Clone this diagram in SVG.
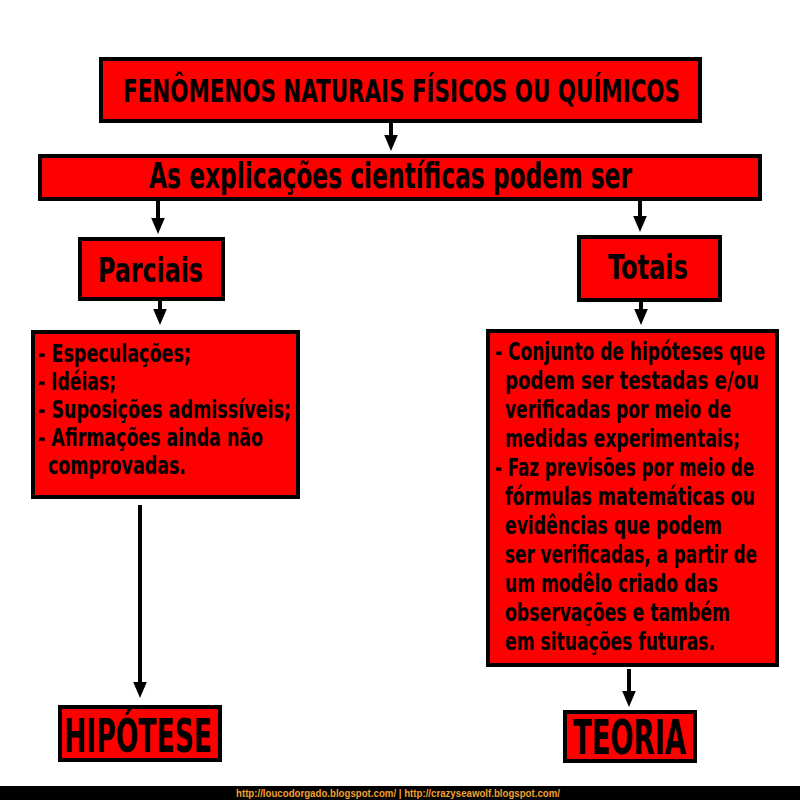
<svg xmlns="http://www.w3.org/2000/svg" width="800" height="800" viewBox="0 0 800 800">
  <style>
    .box { fill: #ff0000; stroke: #000; stroke-width: 4; }
    .t { font-family: "DejaVu Sans Condensed", "DejaVu Sans", sans-serif; font-stretch: condensed; font-weight: bold; fill: #000; }
    .list { font-size: 18px; }
    .con { stroke: #000; stroke-width: 4; fill: none; marker-end: url(#arr); }
    .foot { font-family: "Liberation Sans", Arial, sans-serif; font-size: 11px; font-weight: bold; fill: #f0a030; }
  </style>
  <defs>
    <marker id="arr" markerWidth="4" markerHeight="4" refX="2" refY="2" orient="auto" markerUnits="strokeWidth" viewBox="0 0 4 4">
      <path d="M0,0.3 L4,2 L0,3.7 Z" fill="#000"/>
    </marker>
  </defs>
  <rect width="800" height="800" fill="#fff"/>

  <g id="connectors">
    <line class="con" x1="391" y1="121" x2="391" y2="143"/>
    <line class="con" x1="158" y1="199" x2="158" y2="226"/>
    <line class="con" x1="640" y1="199" x2="640" y2="224"/>
    <line class="con" x1="160" y1="300" x2="160" y2="317"/>
    <line class="con" x1="641" y1="301" x2="641" y2="317"/>
    <line class="con" x1="140" y1="505" x2="140" y2="690"/>
    <line class="con" x1="629" y1="669" x2="629" y2="699"/>
  </g>

  <g id="n-fenomenos">
    <rect class="box" x="101" y="59" width="599" height="62"/>
    <text class="t" transform="translate(123 102) scale(1 1.39)" font-size="23.5" textLength="557" lengthAdjust="spacingAndGlyphs">FENÔMENOS NATURAIS FÍSICOS OU QUÍMICOS</text>
  </g>

  <g id="n-explicacoes">
    <rect class="box" x="40" y="156" width="720" height="43"/>
    <text class="t" transform="translate(149 188) scale(1 1.35)" font-size="26" textLength="483" lengthAdjust="spacingAndGlyphs">As explicações científicas podem ser</text>
  </g>

  <g id="n-parciais">
    <rect class="box" x="80" y="239" width="143" height="60"/>
    <text class="t" transform="translate(98 282) scale(1 1.36)" font-size="25" textLength="105" lengthAdjust="spacingAndGlyphs">Parciais</text>
  </g>

  <g id="n-totais">
    <rect class="box" x="579" y="237" width="141" height="63"/>
    <text class="t" transform="translate(608 279) scale(1 1.32)" font-size="25" textLength="80" lengthAdjust="spacingAndGlyphs">Totais</text>
  </g>

  <g id="n-lista-parciais">
    <rect class="box" x="33" y="332" width="265" height="165"/>
    <text class="t list" transform="translate(38 362) scale(1 1.39)" textLength="153" lengthAdjust="spacingAndGlyphs">- Especulações;</text>
    <text class="t list" transform="translate(38 390) scale(1 1.39)" textLength="78" lengthAdjust="spacingAndGlyphs">- Idéias;</text>
    <text class="t list" transform="translate(38 418) scale(1 1.39)" textLength="253" lengthAdjust="spacingAndGlyphs">- Suposições admissíveis;</text>
    <text class="t list" transform="translate(38 446) scale(1 1.39)" textLength="225" lengthAdjust="spacingAndGlyphs">- Afirmações ainda não</text>
    <text class="t list" transform="translate(48 474) scale(1 1.39)" textLength="138" lengthAdjust="spacingAndGlyphs">comprovadas.</text>
  </g>

  <g id="n-lista-totais">
    <rect class="box" x="488" y="331" width="289" height="334"/>
    <text class="t list" transform="translate(495 360) scale(1 1.39)" textLength="270" lengthAdjust="spacingAndGlyphs">- Conjunto de hipóteses que</text>
    <text class="t list" transform="translate(505 389) scale(1 1.39)" textLength="254" lengthAdjust="spacingAndGlyphs">podem ser testadas e/ou</text>
    <text class="t list" transform="translate(505 418) scale(1 1.39)" textLength="226" lengthAdjust="spacingAndGlyphs">verificadas por meio de</text>
    <text class="t list" transform="translate(505 447) scale(1 1.39)" textLength="235" lengthAdjust="spacingAndGlyphs">medidas experimentais;</text>
    <text class="t list" transform="translate(495 476) scale(1 1.39)" textLength="259" lengthAdjust="spacingAndGlyphs">- Faz previsões por meio de</text>
    <text class="t list" transform="translate(505 505) scale(1 1.39)" textLength="250" lengthAdjust="spacingAndGlyphs">fórmulas matemáticas ou</text>
    <text class="t list" transform="translate(505 534) scale(1 1.39)" textLength="217" lengthAdjust="spacingAndGlyphs">evidências que podem</text>
    <text class="t list" transform="translate(505 563) scale(1 1.39)" textLength="252" lengthAdjust="spacingAndGlyphs">ser verificadas, a partir de</text>
    <text class="t list" transform="translate(505 592) scale(1 1.39)" textLength="213" lengthAdjust="spacingAndGlyphs">um modêlo criado das</text>
    <text class="t list" transform="translate(505 621) scale(1 1.39)" textLength="225" lengthAdjust="spacingAndGlyphs">observações e também</text>
    <text class="t list" transform="translate(505 650) scale(1 1.39)" textLength="210" lengthAdjust="spacingAndGlyphs">em situações futuras.</text>
  </g>

  <g id="n-hipotese">
    <rect class="box" x="60" y="707" width="160" height="53"/>
    <text class="t" transform="translate(64 752) scale(1 1.62)" font-size="29" textLength="148" lengthAdjust="spacingAndGlyphs">HIPÓTESE</text>
  </g>

  <g id="n-teoria">
    <rect class="box" x="565" y="712" width="130" height="49"/>
    <text class="t" transform="translate(573 754) scale(1 1.6)" font-size="30" textLength="113" lengthAdjust="spacingAndGlyphs">TEORIA</text>
  </g>

  <g id="footer">
    <rect x="0" y="786" width="800" height="14" fill="#000"/>
    <text class="foot" x="236" y="797" textLength="324" lengthAdjust="spacingAndGlyphs">http://loucodorgado.blogspot.com/ | http://crazyseawolf.blogspot.com/</text>
  </g>
</svg>
